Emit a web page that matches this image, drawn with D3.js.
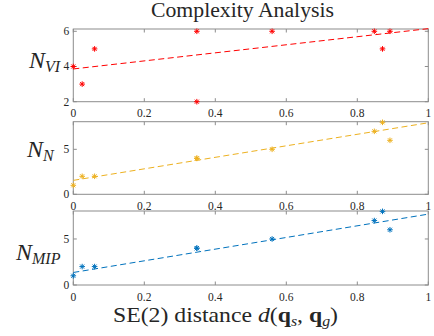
<!DOCTYPE html>
<meta charset="utf-8">
<style>
body { margin: 0; background: #fff; }
text { font-family: "Liberation Serif", "Times New Roman", serif; fill: #262626; }
.frame { fill: none; stroke: #8c8c8c; stroke-width: 1; }
</style>
<svg width="434" height="336"></svg>
<script src="https://d3js.org/d3.v7.min.js"></script>
<script>

// SE(2) distance of each query
var dist = [0, 0.025, 0.06, 0.348, 0.348, 0.56, 0.848, 0.871, 0.892];
var nVI  = [4, 3, 5, 6, 2, 6, 6, 5, 6];
var nN   = [1, 2, 2, 4, 4, 5, 7, 8, 6];
var nMIP = [1, 2, 2, 4, 4, 5, 7, 8, 6];

// dashed fit lines, value at d=0 and d=1
var fitVI  = [3.86, 6.15];
var fitN   = [1.55, 7.95];
var fitMIP = [1.36, 7.7];

var xTicks = [0, 0.2, 0.4, 0.6, 0.8, 1];
var xTickLabels = ["0", "0.2", "0.4", "0.6", "0.8", "1"];

var svg = d3.select("svg");

var x = d3.scaleLinear().domain([0, 1]).range([73.3, 428.3]);

var panels = [
  {vals: nVI,  fit: fitVI,  color: "#ff0000", top: 29,    bottom: 101.7, ymin: 2, ymax: 6.13, ticks: [2, 4, 6], lab: "N", sub: "VI",  lx: 29, ly: 68},
  {vals: nN,   fit: fitN,   color: "#EDB120", top: 121.7, bottom: 194.3, ymin: 0, ymax: 8.07, ticks: [0, 5],    lab: "N", sub: "N",   lx: 27, ly: 157},
  {vals: nMIP, fit: fitMIP, color: "#0072BD", top: 211,   bottom: 285,   ymin: 0, ymax: 8.04, ticks: [0, 5],    lab: "N", sub: "MIP", lx: 16, ly: 260}
];

var tickLen = 3.5;
var tickFont = "11.5px";

panels.forEach(function(p) {
  var y = d3.scaleLinear().domain([p.ymin, p.ymax]).range([p.bottom, p.top]);
  var g = svg.append("g");

  // box
  g.append("rect").attr("class", "frame")
    .attr("x", x(0)).attr("y", p.top)
    .attr("width", x(1) - x(0)).attr("height", p.bottom - p.top);

  // ticks inward on all four sides
  xTicks.forEach(function(t, i) {
    g.append("line").attr("class", "frame")
      .attr("x1", x(t)).attr("x2", x(t)).attr("y1", p.bottom).attr("y2", p.bottom - tickLen);
    g.append("line").attr("class", "frame")
      .attr("x1", x(t)).attr("x2", x(t)).attr("y1", p.top).attr("y2", p.top + tickLen);
    g.append("text")
      .attr("x", x(t)).attr("y", p.bottom + 15.5)
      .attr("text-anchor", "middle").style("font-size", tickFont)
      .text(xTickLabels[i]);
  });
  p.ticks.forEach(function(t) {
    g.append("line").attr("class", "frame")
      .attr("x1", x(0)).attr("x2", x(0) + tickLen).attr("y1", y(t)).attr("y2", y(t));
    g.append("line").attr("class", "frame")
      .attr("x1", x(1)).attr("x2", x(1) - tickLen).attr("y1", y(t)).attr("y2", y(t));
    g.append("text")
      .attr("x", x(0) - 4).attr("y", y(t) + 4)
      .attr("text-anchor", "end").style("font-size", tickFont)
      .text(t);
  });

  // fit line
  g.append("line")
    .attr("x1", x(0)).attr("y1", y(p.fit[0]))
    .attr("x2", x(1)).attr("y2", y(p.fit[1]))
    .attr("stroke", p.color).attr("stroke-width", 1)
    .attr("stroke-dasharray", "6,3.5");

  // asterisk markers
  var r = 2.8, d = r * 0.72;
  var star = "M0," + (-r) + "V" + r + "M" + (-r) + ",0H" + r +
             "M" + (-d) + "," + (-d) + "L" + d + "," + d +
             "M" + (-d) + "," + d + "L" + d + "," + (-d);
  g.selectAll("path.pt").data(p.vals).enter().append("path")
    .attr("class", "pt")
    .attr("d", star)
    .attr("transform", function(v, i) { return "translate(" + x(dist[i]) + "," + y(v) + ")"; })
    .attr("fill", "none").attr("stroke", p.color).attr("stroke-width", 1);

  // y label
  var lt = svg.append("text").attr("x", p.lx).attr("y", p.ly).style("font-size", "24px");
  lt.append("tspan").style("font-style", "italic").text(p.lab);
  lt.append("tspan").style("font-style", "italic").style("font-size", "16px")
    .attr("dy", 4).text(p.sub);
});

// title
svg.append("text")
  .attr("x", 242.5).attr("y", 17)
  .attr("text-anchor", "middle")
  .style("font-size", "20px")
  .attr("textLength", 183).attr("lengthAdjust", "spacingAndGlyphs")
  .text("Complexity Analysis");

// x label
var xl = svg.append("text")
  .attr("x", 225.5).attr("y", 322)
  .attr("text-anchor", "middle")
  .style("font-size", "21px")
  .attr("textLength", 225).attr("lengthAdjust", "spacingAndGlyphs");
xl.append("tspan").text("SE(2) distance ");
xl.append("tspan").style("font-style", "italic").text("d");
xl.append("tspan").text("(");
xl.append("tspan").style("font-weight", "bold").text("q");
xl.append("tspan").style("font-style", "italic").style("font-size", "14px").attr("dy", 4).text("s");
xl.append("tspan").attr("dy", -4).text(", ");
xl.append("tspan").style("font-weight", "bold").text("q");
xl.append("tspan").style("font-style", "italic").style("font-size", "14px").attr("dy", 4).text("g");
xl.append("tspan").attr("dy", -4).text(")");

</script>
